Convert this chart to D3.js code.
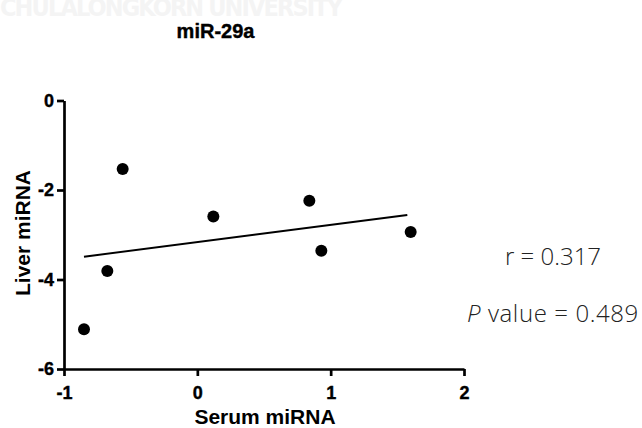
<!DOCTYPE html>
<html>
<head>
<meta charset="utf-8">
<script src="https://cdn.jsdelivr.net/npm/d3@7"></script>
<style>
  body { margin: 0; background: #fff; }
  svg { display: block; }
</style>
</head>
<body>
<svg id="chart" width="642" height="428"></svg>
<script>
// values
var serum = [-0.85, -0.675, -0.56, 0.12, 0.84, 0.93, 1.60];
var liver = [-5.11, -3.81, -1.53, -2.59, -2.24, -3.36, -2.94];
var fitX = [-0.85, 1.575];
var fitY = [-3.49, -2.56];
var xTicks = [-1, 0, 1, 2];
var yTicks = [0, -2, -4, -6];

var svg = d3.select('#chart');
var boldFont = 'Arial, "Liberation Sans", sans-serif';

var x = d3.scaleLinear().domain([-1, 2]).range([64, 464]);
var y = d3.scaleLinear().domain([-6, 0]).range([369, 100.5]);

// faint watermark behind the title
svg.append('text')
    .text('CHULALONGKORN  UNIVERSITY')
    .attr('x', 0)
    .attr('y', 16)
    .attr('textLength', 343)
    .style('font-family', '"Liberation Sans Narrow", "DejaVu Sans Condensed", Arial, sans-serif')
    .style('font-weight', 'bold')
    .style('font-size', '25px')
    .style('fill', '#f4f4f4');

svg.append('text')
    .text('miR-29a')
    .attr('x', 215.5)
    .attr('y', 38)
    .attr('text-anchor', 'middle')
    .style('font-family', boldFont)
    .style('font-weight', 'bold')
    .style('font-size', '20px')
    .style('stroke', '#000')
    .style('stroke-width', 0.4);

var fmt = function(d) { return String(d); };

var xAxis = svg.append('g')
    .attr('transform', 'translate(0,' + y(-6) + ')')
    .call(d3.axisBottom(x).tickValues(xTicks).tickSize(7).tickSizeOuter(0).tickFormat(fmt));

var yAxis = svg.append('g')
    .attr('transform', 'translate(' + x(-1) + ',0)')
    .call(d3.axisLeft(y).tickValues(yTicks).tickSize(7).tickSizeOuter(0).tickFormat(fmt));

[xAxis, yAxis].forEach(function(a) {
    a.select('.domain').attr('stroke', '#000').attr('stroke-width', 2.7);
    a.selectAll('.tick line').attr('stroke', '#000').attr('stroke-width', 2.7);
    a.selectAll('.tick text')
        .style('fill', '#000')
        .style('font-family', boldFont)
        .style('font-weight', 'bold')
        .style('font-size', '18px')
        .style('stroke', '#000')
        .style('stroke-width', 0.4);
});
xAxis.selectAll('.tick text').attr('dy', '0.71em').attr('y', 17);
yAxis.selectAll('.tick text').attr('x', -10);

svg.append('text')
    .text('Serum miRNA')
    .attr('x', 265)
    .attr('y', 424)
    .attr('text-anchor', 'middle')
    .style('font-family', boldFont)
    .style('font-weight', 'bold')
    .style('font-size', '21px');

svg.append('text')
    .text('Liver miRNA')
    .attr('transform', 'translate(30,233)rotate(-90)')
    .attr('text-anchor', 'middle')
    .style('font-family', boldFont)
    .style('font-weight', 'bold')
    .style('font-size', '21px');

// regression line
svg.append('line')
    .attr('x1', x(fitX[0])).attr('y1', y(fitY[0]))
    .attr('x2', x(fitX[1])).attr('y2', y(fitY[1]))
    .attr('stroke', '#000')
    .attr('stroke-width', 2);

svg.append('g')
    .selectAll('circle')
    .data(serum)
    .enter().append('circle')
    .attr('cx', function(d) { return x(d); })
    .attr('cy', function(d, i) { return y(liver[i]); })
    .attr('r', 6)
    .attr('fill', '#000');

// stats text
var statFont = '"Open Sans", "Noto Sans", sans-serif';
svg.append('text')
    .text('r = 0.317')
    .attr('x', 505)
    .attr('y', 265)
    .style('font-family', statFont)
    .style('font-weight', 300)
    .style('font-size', '24px')
    .style('fill', '#222');

var pt = svg.append('text')
    .attr('x', 467)
    .attr('y', 322)
    .style('font-family', statFont)
    .style('font-weight', 300)
    .style('font-size', '24px')
    .style('letter-spacing', '0.6px')
    .style('fill', '#222');
pt.append('tspan').style('font-style', 'italic').text('P');
pt.append('tspan').text(' value = 0.489');
</script>
</body>
</html>
